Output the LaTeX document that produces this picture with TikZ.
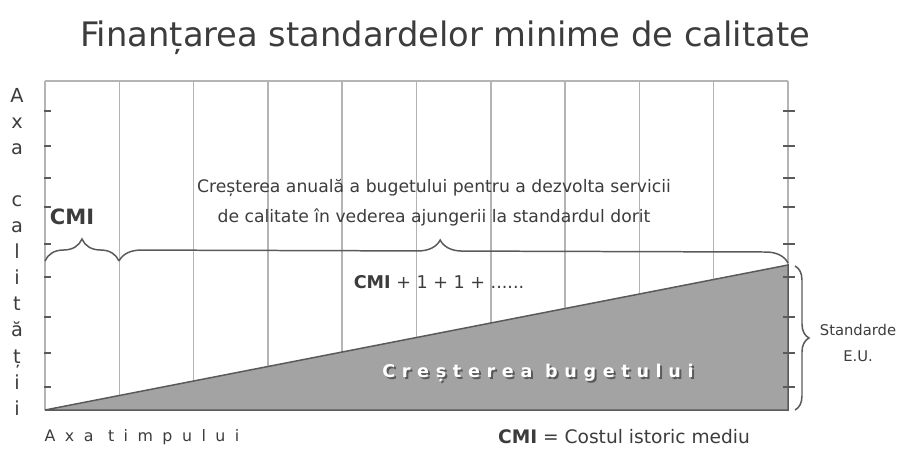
\documentclass[tikz,border=0pt]{standalone}
\usepackage{fontspec}
\setmainfont{DejaVu Sans}
\usepackage{tikz}
\usetikzlibrary{decorations.pathreplacing}
\definecolor{tg}{HTML}{3C3C3C}
\definecolor{gg}{HTML}{B4B4B4}
\definecolor{fg}{HTML}{A3A3A3}
\definecolor{bg}{HTML}{5A5A5A}
\tikzstyle{gridline} = [draw=gg, line width=0.85pt]
\tikzstyle{tick} = [draw=bg, line width=1.2pt]
\tikzstyle{brace} = [decorate, decoration={brace, amplitude=0.44cm}, draw=bg, line width=0.85pt]
\tikzstyle{lbl} = [text=tg, inner sep=0pt]

\begin{document}
\begin{tikzpicture}[x=0.02cm,y=-0.02cm]
			\useasboundingbox (0,0) rectangle (897,450);
			\node[lbl,font=\fontsize{19.2}{22}\selectfont] (title) at (445,38) {Finanțarea standardelor minime de calitate};
			\draw[gridline] (45,81) -- (788,81);
			\foreach \i in {0,...,10}
				\draw[gridline] ({45+74.3*\i},81) -- ({45+74.3*\i},410);
			\coordinate (origin) at (45,410);
			\coordinate (tend) at (788,410);
			\coordinate (peak) at (788,265);
			\filldraw[fill=fg, draw=bg, line width=0.85pt] (origin) -- (tend) -- (peak) -- cycle;
			\foreach \y in {111,146,178,207,244,277,317,353,387} {
				\draw[tick] (44,\y) -- (51,\y);
				\draw[tick] (783,\y) -- (795,\y);
			}
			\foreach \ch [count=\k from 0] in {A,x,a,{},c,a,l,i,t,ă,ț,i,i}
				\node[lbl,anchor=base,font=\fontsize{11}{13}\selectfont] (ax\k) at (17,{102+26.1*\k}) {\ch};
			\coordinate (cmiL) at (45,261);
			\coordinate (cmiR) at (119,261);
			\coordinate (growR) at (788,263);
			\coordinate (stdT) at (795,266);
			\coordinate (stdB) at (795,410);
			\draw[brace] (cmiL) -- (cmiR);
			\draw[brace, decoration={aspect=0.48}] (cmiR) -- (growR);
			\draw[brace, decoration={amplitude=0.28cm}] (stdT) -- (stdB);
			\node[lbl,font=\fontsize{12}{14}\selectfont\bfseries] (cmi) at (72,217) {CMI};
			\node[lbl,align=center,font=\fontsize{9.8}{17}\selectfont] (grow) at (434,203) {Creșterea anuală a bugetului pentru a dezvolta servicii\\de calitate în vederea ajungerii la standardul dorit};
			\node[lbl,font=\fontsize{10}{12}\selectfont] (sum) at (439,282) {\bfseries CMI\mdseries{} + 1 + 1 + ......};
			\node[text=bg,inner sep=0pt,font=\fontsize{10}{12}\selectfont\bfseries\addfontfeature{LetterSpace=38}] (budgetS) at (540,375) {Creșterea bugetului};
			\node[text=white,inner sep=0pt,font=\fontsize{10}{12}\selectfont\bfseries\addfontfeature{LetterSpace=38}] (budget) at (538,373) {Creșterea bugetului};
			\node[lbl,font=\fontsize{9}{11}\selectfont\addfontfeature{LetterSpace=60}] (taxis) at (142,437) {Axa timpului};
			\node[lbl,font=\fontsize{10.6}{12}\selectfont] (legend) at (624,437) {\bfseries CMI\mdseries{} = Costul istoric mediu};
			\node[lbl,align=center,font=\fontsize{8.4}{15}\selectfont] (std) at (858,343) {Standarde\\E.U.};
		\end{tikzpicture}
\end{document}
